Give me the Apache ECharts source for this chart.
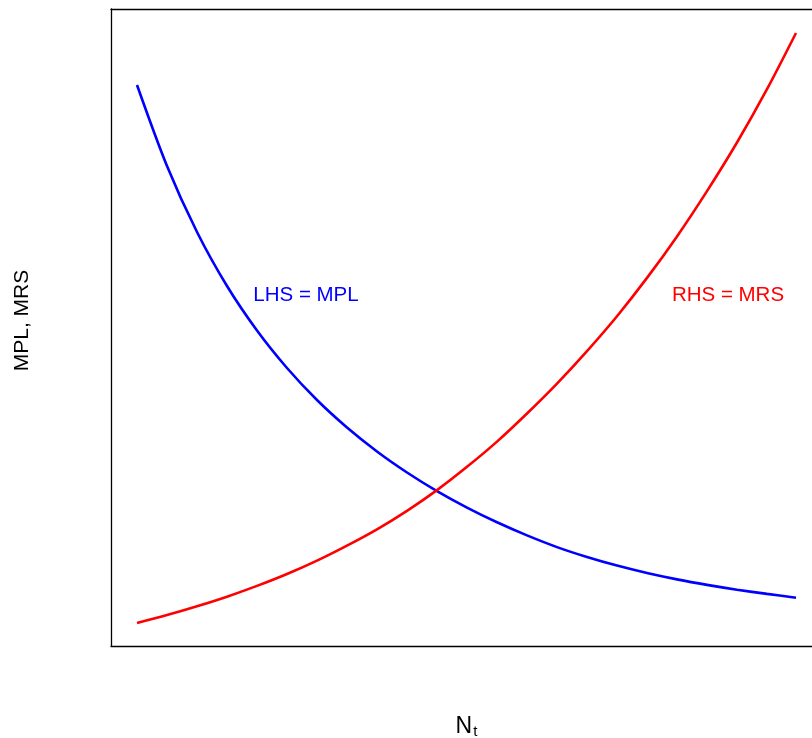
<!DOCTYPE html>
<html>
<head>
<meta charset="utf-8">
<script src="https://cdn.jsdelivr.net/npm/echarts@6/dist/echarts.min.js"></script>
<style>html,body{margin:0;padding:0;background:#fff}#c{width:812px;height:738px}</style>
</head>
<body>
<div id="c"></div>
<script>
// Shared N positions
const nX = [26, 56, 86, 116, 146, 176, 206, 236, 266, 296, 326, 356, 386, 416, 446, 476, 506, 536, 566, 596, 626, 656, 685];
// LHS = MPL (blue, decreasing)
const mplY = [561, 480, 414, 360, 315.5, 278, 246, 218.5, 194.5, 173.5, 154.9, 138.4, 123.7, 110.6, 98.9, 89, 80.4, 73, 66.6, 61.1, 56.3, 52.1, 48.3];
// RHS = MRS (red, increasing)
const mrsY = [23, 30.9, 39.7, 49.3, 60.1, 72, 85.4, 100.4, 116.7, 135.2, 155.9, 179.2, 204.4, 232.5, 262.4, 294.9, 329.8, 368.1, 409.6, 454.9, 503.5, 556.8, 613];
// Curve labels
const labelText = ['LHS = MPL', 'RHS = MRS'];
const labelX = [195, 617];
const labelY = [351, 351];
const xRange = [0, 711];
const yRange = [0, 637];

const font = '"Liberation Sans", Arial, Helvetica, sans-serif';
const chart = echarts.init(document.getElementById('c'));
const zip = (xs, ys) => xs.map((x, i) => [x, ys[i]]);
const frame = { show: true, onZero: false, lineStyle: { color: '#000', width: 1.3 } };

chart.setOption({
  animation: false,
  backgroundColor: '#fff',
  grid: { left: 111, top: 9, width: 711, height: 637, show: false, containLabel: false, outerBoundsMode: 'none' },
  xAxis: [{
    type: 'value', min: xRange[0], max: xRange[1], position: 'bottom',
    axisLine: frame, axisTick: { show: false }, axisLabel: { show: false }, splitLine: { show: false },
    name: '{a|N}{b|t}', nameLocation: 'middle', nameGap: 68,
    nameTextStyle: {
      rich: {
        a: { fontSize: 23, fontFamily: font, color: '#000' },
        b: { fontSize: 15, fontFamily: font, color: '#000', padding: [10, 0, 0, 1] }
      }
    }
  }, {
    type: 'value', min: xRange[0], max: xRange[1], position: 'top',
    axisLine: frame, axisTick: { show: false }, axisLabel: { show: false }, splitLine: { show: false }
  }],
  yAxis: {
    type: 'value', min: yRange[0], max: yRange[1],
    axisLine: frame, axisTick: { show: false }, axisLabel: { show: false }, splitLine: { show: false },
    name: 'MPL, MRS', nameLocation: 'middle', nameGap: 78,
    nameTextStyle: { fontSize: 21, fontFamily: font, color: '#000', padding: [0, 0, 0, 14] }
  },
  series: [
    { type: 'line', data: zip(nX, mplY), smooth: 0.3, showSymbol: false, lineStyle: { color: '#0000ff', width: 2.6 }, z: 3 },
    { type: 'line', data: zip(nX, mrsY), smooth: 0.3, showSymbol: false, lineStyle: { color: '#ff0000', width: 2.6 }, z: 3 },
    {
      type: 'scatter', symbolSize: 0, z: 4, silent: true,
      data: labelText.map((t, i) => ({
        value: [labelX[i], labelY[i]],
        label: { show: true, position: 'inside', formatter: t, fontSize: 20.5, fontFamily: font, color: i === 0 ? '#0000ff' : '#ff0000', textBorderWidth: 0, opacity: 1 }
      }))
    }
  ]
});
</script>
</body>
</html>
